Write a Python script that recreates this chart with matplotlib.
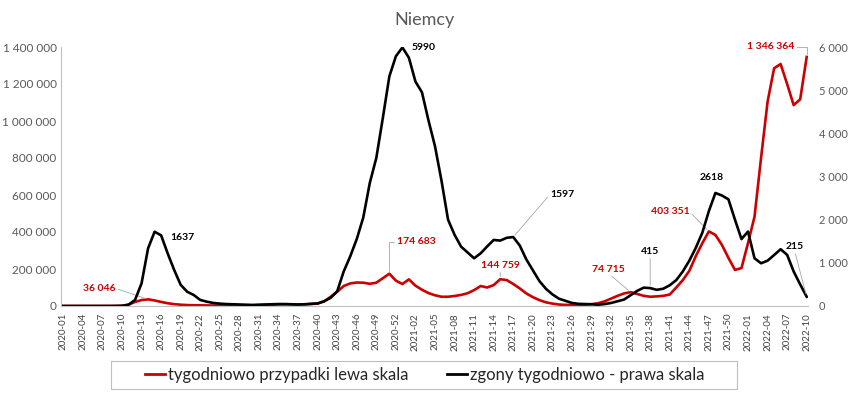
import matplotlib
matplotlib.use("Agg")
import matplotlib.pyplot as plt
from matplotlib.patches import Rectangle
from matplotlib.ticker import FuncFormatter

plt.rcParams['font.family'] = ['Lato', 'DejaVu Sans']

# tygodnie: 2020 ma 53 tygodnie, 2021 - 52, 2022 do 10. tygodnia
weeks = ([f"2020-{w:02d}" for w in range(1, 54)]
         + [f"2021-{w:02d}" for w in range(1, 53)]
         + [f"2022-{w:02d}" for w in range(1, 11)])

# tygodniowe przypadki (lewa skala)
cases = [
    0, 0, 0, 0, 0, 10, 20, 100, 600, 1000,
    7000, 22000, 32000, 36046, 30000, 22000, 15000, 10000, 7000, 5000,
    4000, 3500, 3000, 2500, 3500, 4500, 3500, 3000, 3000, 3500,
    4500, 5500, 7000, 8500, 9000, 8500, 8000, 9000, 11000, 13000,
    25000, 50000, 77000, 108000, 122000, 127000, 126000, 120000, 126000, 150000,
    174683, 137000, 119000, 144000, 110000, 88000, 70000, 58000, 50000, 50000,
    54000, 60000, 69000, 86000, 108000, 100000, 113000, 144759, 140000, 119000,
    95000, 68000, 48000, 32000, 20000, 13000, 8000, 6000, 5000, 5000,
    7000, 10000, 15000, 25000, 40000, 55000, 68000, 74715, 65000, 55000,
    50000, 52000, 55000, 62000, 100000, 140000, 190000, 270000, 340000, 403351,
    384000, 330000, 260000, 195000, 205000, 340000, 483000, 800000, 1104000, 1285000,
    1308000, 1200000, 1086000, 1117000, 1346364,
]

# zgony tygodniowo (prawa skala)
deaths = [
    0, 0, 0, 0, 0, 0, 0, 0, 0, 5,
    30, 140, 525, 1335, 1720, 1637, 1220, 835, 490, 330,
    255, 140, 100, 70, 55, 45, 40, 35, 30, 25,
    30, 35, 40, 45, 45, 40, 35, 40, 50, 60,
    110, 190, 340, 800, 1150, 1550, 2050, 2850, 3430, 4355,
    5320, 5785, 5990, 5750, 5200, 4950, 4300, 3700, 2900, 2000,
    1650, 1375, 1240, 1105, 1220, 1380, 1530, 1515, 1580, 1597,
    1400, 1080, 830, 580, 400, 270, 170, 120, 70, 50,
    45, 40, 30, 45, 70, 110, 150, 250, 350, 425,
    415, 375, 400, 480, 600, 800, 1050, 1350, 1700, 2200,
    2618, 2560, 2470, 2000, 1550, 1725, 1105, 990, 1050, 1180,
    1315, 1185, 800, 500, 215,
]

red = '#cc0000'
grey_text = '#595959'
grey_line = '#bfbfbf'

fig = plt.figure(figsize=(8.48, 3.95), dpi=100)
ax = fig.add_axes([60.7 / 848, 1 - 306 / 395, (808 - 60.7) / 848, (306 - 47) / 395])
ax2 = ax.twinx()

x = list(range(len(weeks)))
ax.plot(x, cases, color=red, lw=1.9, solid_joinstyle='round')
ax2.plot(x, deaths, color='black', lw=1.9, solid_joinstyle='round')

ax.set_xlim(-0.4, len(weeks) - 1 + 0.2)
ax.set_ylim(0, 1400000)
ax2.set_ylim(0, 6000)

space_fmt = FuncFormatter(lambda v, p: f"{int(v):,}".replace(",", " "))
ax.set_yticks(range(0, 1400001, 200000))
ax.yaxis.set_major_formatter(space_fmt)
ax2.set_yticks(range(0, 6001, 1000))
ax2.yaxis.set_major_formatter(space_fmt)

ax.set_xticks(x[::3])
ax.set_xticklabels(weeks[::3], rotation=90)

for a in (ax, ax2):
    for s in a.spines.values():
        s.set_visible(False)
    a.tick_params(length=0, colors=grey_text, labelsize=8.5)
ax.spines['left'].set_visible(True)
ax.spines['bottom'].set_visible(True)
ax.spines['left'].set_color(grey_line)
ax.spines['bottom'].set_color(grey_line)
ax.tick_params(axis='y', pad=3)
ax.tick_params(axis='x', labelsize=7, pad=5, labelcolor='#404040')
ax2.tick_params(axis='y', pad=8, labelsize=8)
for t in ax2.get_yticklabels():
    t.set_horizontalalignment('left')

fig.text(0.5, 1 - 20 / 395, "Niemcy", ha='center', va='center', fontsize=13, color=grey_text)

# etykiety danych: (seria, indeks, przesunięcie w px, punkt zaczepienia linii odniesienia)
labels = [
    ('c', 13, (-49, 11), (1, 0.5), None),
    ('c', 50, (27, 32), (0, 0.5), "angle,angleA=0,angleB=90,rad=0"),
    ('c', 67, (0, 14), (0.5, 0), None),
    ('c', 87, (-22, 23), (0.5, 0), None),
    ('c', 99, (-39, 20), (1, 0.5), None),
    ('c', 114, (-36, 10), (1, 0.5), "angle,angleA=0,angleB=90,rad=0"),
    ('d', 15, (21, -2), None, None),
    ('d', 52, (21, 0), None, None),
    ('d', 69, (49, 43), (0, 0.5), None),
    ('d', 90, (0, 37), (0.5, 0), None),
    ('d', 100, (-4, 15), None, None),
    ('d', 114, (-12, 50), (0.5, 0), None),
]
for series, i, off, rel, conn in labels:
    if series == 'c':
        target, val, col = ax, cases[i], red
        txt = f"{val:,}".replace(",", " ")
    else:
        target, val, col = ax2, deaths[i], 'black'
        txt = str(val)
    arrow = None
    if rel is not None:
        arrow = dict(arrowstyle='-', color='#a6a6a6', lw=0.6, relpos=rel,
                     shrinkA=0, shrinkB=2, connectionstyle=conn or "arc3")
    target.annotate(txt, xy=(i, val), xytext=off, textcoords='offset pixels',
                    ha='center', va='center', fontsize=7.5, fontweight='bold',
                    color=col, arrowprops=arrow)

# legenda w ramce pod wykresem
fig.patches.append(Rectangle((111 / 848, 1 - 389 / 395), 626 / 848, 28 / 395,
                             transform=fig.transFigure, fill=False,
                             edgecolor=grey_line, lw=0.8))
handles = [plt.Line2D([], [], color=red, lw=2), plt.Line2D([], [], color='black', lw=2)]
fig.legend(handles, ["tygodniowo przypadki lewa skala", "zgony tygodniowo - prawa skala"],
           loc='center', bbox_to_anchor=(425 / 848, 1 - 375 / 395), ncol=2,
           frameon=False, fontsize=12, handlelength=1.2, handletextpad=0.2,
           columnspacing=2.3, labelcolor='#262626')

fig.savefig('out.png', dpi=100)
